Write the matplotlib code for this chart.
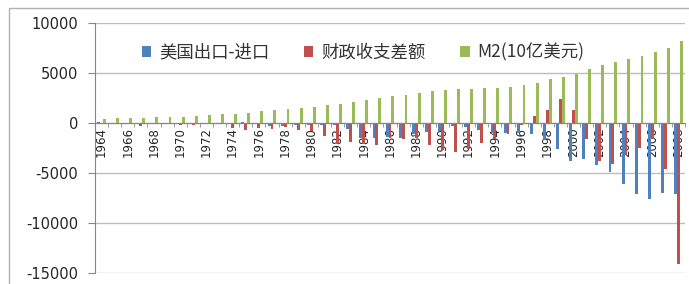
import matplotlib
matplotlib.use("Agg")
import matplotlib.pyplot as plt
from matplotlib.patches import Rectangle, Patch
import numpy as np

plt.rcParams['axes.unicode_minus'] = False

years = list(range(1964, 2009))

# 美国出口-进口
trade = [68, 49, 29, 26, 3, 1, 23, -13, -54, 19, -43, 124, -61, -272, -298,
         -246, -194, -162, -242, -578, -1500, -1500, -1450, -1517, -1146,
         -931, -809, -311, -392, -703, -985, -964, -1041, -1083, -1661,
         -2632, -3780, -3620, -4180, -4940, -6090, -7140, -7620, -7050, -7090]

# 财政收支差额
fiscal = [-14, -37, -86, -252, 32, -28, -230, -234, -149, -61, -532, -737,
          -537, -592, -407, -738, -790, -1280, -2078, -1854, -2123, -2212,
          -1497, -1552, -1526, -2210, -2692, -2903, -2551, -2032, -1640,
          -1074, -219, 693, 1256, 2362, 1282, -1578, -3776, -4127, -3183,
          -2482, -1607, -4586, -14127]

# M2(10亿美元)
m2 = [425, 459, 480, 525, 567, 588, 627, 710, 802, 856, 902, 1016, 1152,
      1270, 1366, 1474, 1600, 1756, 1906, 2124, 2306, 2492, 2728, 2826,
      2988, 3153, 3272, 3372, 3425, 3475, 3486, 3630, 3819, 4033, 4375,
      4638, 4925, 5434, 5772, 6067, 6418, 6682, 7072, 7472, 8192]

series_names = ['美国出口-进口', '财政收支差额', 'M2(10亿美元)']
colors = ['#4F81BD', '#C0504D', '#9BBB59']

W, H = 689, 284
fig = plt.figure(figsize=(W / 100, H / 100), dpi=100)

# outer chart frame
fig.patches.append(Rectangle((9 / W, -0.2), 1.0, (284 - 8) / H + 0.2,
                             transform=fig.transFigure, fill=False,
                             edgecolor='#b0b0b0', linewidth=1.0))

ax = fig.add_axes([95 / W, (284 - 273) / H, (685 - 95) / W, (273 - 23) / H])

x = np.arange(len(years))
bw = 1 / 4.5
for k, (vals, c) in enumerate(zip([trade, fiscal, m2], colors)):
    ax.bar(x + (k - 1) * bw, vals, width=bw, color=c, linewidth=0, zorder=3)

ax.set_xlim(-0.5, len(years) - 0.5)
ax.set_ylim(-15000, 10000)
ax.set_yticks(np.arange(-15000, 10001, 5000))
ax.grid(axis='y', color='#bdbdbd', linewidth=1.0, zorder=0)

for s in ['top', 'right']:
    ax.spines[s].set_visible(False)
ax.spines['left'].set_color('#868686')
ax.spines['bottom'].set_position(('data', 0))
ax.spines['bottom'].set_color('#868686')
ax.spines['bottom'].set_zorder(4)

ax.tick_params(axis='y', length=5, color='#868686', pad=7, labelsize=10.5,
               labelcolor='#262626')
ax.set_xticks(x[::2])
ax.set_xticklabels([str(y) for y in years[::2]], rotation=90, fontsize=8.5,
                   color='#262626', va='top')
ax.set_xticks(np.arange(-0.5, len(years), 1), minor=True)
ax.tick_params(axis='x', which='major', length=0, pad=3)
ax.tick_params(axis='x', which='minor', length=3, color='#868686')

handles = [Patch(facecolor=c, edgecolor='none') for c in colors]
fig.legend(handles, series_names, loc='center', bbox_to_anchor=(0.527, 0.815),
           ncol=3, frameon=False, handlelength=0.55, handleheight=0.55,
           handletextpad=0.45, columnspacing=2.0,
           prop={'family': ['Noto Sans CJK SC', 'DejaVu Sans'], 'size': 12.5},
           labelcolor='#333333')

fig.savefig('out.png', dpi=100)
